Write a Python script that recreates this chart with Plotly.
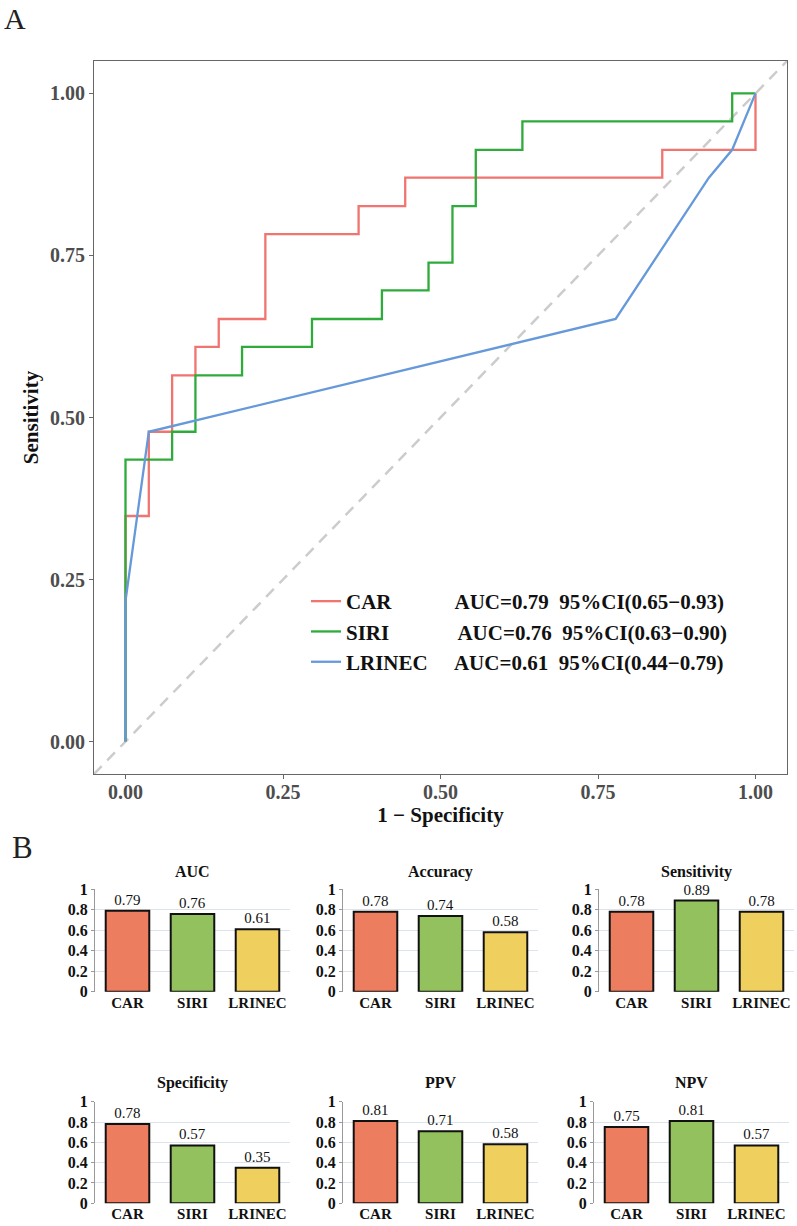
import plotly.graph_objects as go

# ---------------- Data ----------------
# ROC curves (1 - specificity, sensitivity) vertices
car_fpr = [0.0, 0.0, 0.037, 0.074, 0.111, 0.148, 0.222, 0.370, 0.444, 0.852, 1.0]
car_tpr = [0.0, 0.348, 0.478, 0.565, 0.609, 0.652, 0.783, 0.826, 0.870, 0.913, 1.0]

siri_fpr = [0.0, 0.0, 0.074, 0.111, 0.185, 0.296, 0.407, 0.481, 0.519, 0.556, 0.630, 0.963, 1.0]
siri_tpr = [0.0, 0.435, 0.478, 0.565, 0.609, 0.652, 0.696, 0.739, 0.826, 0.913, 0.957, 1.0, 1.0]

lrinec_fpr = [0.0, 0.0, 0.037, 0.778, 0.926, 0.963, 1.0]
lrinec_tpr = [0.0, 0.217, 0.478, 0.652, 0.870, 0.913, 1.0]

models = ["CAR", "SIRI", "LRINEC"]
auc_vals = [0.79, 0.76, 0.61]
ci_low = [0.65, 0.63, 0.44]
ci_high = [0.93, 0.90, 0.79]

roc_ticks = [0.0, 0.25, 0.5, 0.75, 1.0]
roc_ticktext = ["0.00", "0.25", "0.50", "0.75", "1.00"]

metric_names = ["AUC", "Accuracy", "Sensitivity", "Specificity", "PPV", "NPV"]
metric_auc = [0.79, 0.76, 0.61]
metric_accuracy = [0.78, 0.74, 0.58]
metric_sensitivity = [0.78, 0.89, 0.78]
metric_specificity = [0.78, 0.57, 0.35]
metric_ppv = [0.81, 0.71, 0.58]
metric_npv = [0.75, 0.81, 0.57]
metric_values = [metric_auc, metric_accuracy, metric_sensitivity,
                 metric_specificity, metric_ppv, metric_npv]

# ---------------- Style ----------------
W, H = 797, 1226
SERIF = "Liberation Serif"
line_colors = ["#F07470", "#2EAB3B", "#6699D9"]
bar_colors = ["#ED7D5F", "#93C15D", "#EFCF5D"]
pad_spaces = [12, 13, 5]

def px_x(p):
    return p / W

def px_y(p):
    return 1 - p / H

fig = go.Figure()

shapes_fr = [(car_fpr, car_tpr, "hv"), (siri_fpr, siri_tpr, "hv"), (lrinec_fpr, lrinec_tpr, "linear")]
for i, (fx, ty, shp) in enumerate(shapes_fr):
    label = (models[i] + "\u00a0" * pad_spaces[i] +
             f"AUC={auc_vals[i]:.2f}\u00a0\u00a095%CI({ci_low[i]:.2f}\u2212{ci_high[i]:.2f})")
    fig.add_trace(go.Scatter(
        x=fx, y=ty, mode="lines", name=label,
        line=dict(color=line_colors[i], width=2.3, shape=shp),
        xaxis="x", yaxis="y", showlegend=True,
    ))

roc_range = [-0.05, 1.05]
fig.add_shape(type="line", xref="x", yref="y",
              x0=roc_range[0], y0=roc_range[0], x1=roc_range[1], y1=roc_range[1],
              line=dict(color="#CCCCCC", width=2.5, dash="11px,8px"), layer="below")

# bar panels
col_domains_r1 = [(95, 290), (343, 538), (599, 794)]
col_domains_r2 = [(95, 290), (343, 538), (594, 789)]
row_y = [(889.3, 991.7), (1101.7, 1203.3)]
title_y = [871.7, 1082.7]

layout_axes = {}
annotations = []
for k, name in enumerate(metric_names):
    r, c = divmod(k, 3)
    dom = (col_domains_r1 if r == 0 else col_domains_r2)[c]
    top, bot = row_y[r]
    n = k + 2
    fig.add_trace(go.Bar(
        x=models, y=metric_values[k], xaxis=f"x{n}", yaxis=f"y{n}",
        marker=dict(color=bar_colors, line=dict(color="#111111", width=2)),
        width=0.67, text=[f"{v:.2f}" for v in metric_values[k]],
        textposition="outside", cliponaxis=False,
        textfont=dict(family=SERIF, size=15, color="#111111"),
        showlegend=False,
    ))
    layout_axes[f"xaxis{n}"] = dict(
        domain=[px_x(dom[0]), px_x(dom[1])], anchor=f"y{n}", type="category",
        range=[-0.5, 2.5], showgrid=False, showline=False, zeroline=False,
        ticks="", automargin=False,
        tickfont=dict(family=SERIF, size=15, color="#111111", weight="bold"),
    )
    layout_axes[f"yaxis{n}"] = dict(
        domain=[px_y(bot), px_y(top)], anchor=f"x{n}", range=[0, 1], dtick=0.2,
        showgrid=True, gridcolor="#DDE3EC", gridwidth=1, zeroline=False,
        showline=True, linecolor="#999999", linewidth=1.2,
        ticks="outside", ticklen=3, tickcolor="#999999", automargin=False,
        tickfont=dict(family=SERIF, size=16, color="#111111", weight="bold"),
    )
    annotations.append(dict(
        text=name, xref="paper", yref="paper",
        x=px_x((dom[0] + dom[1]) / 2), y=px_y(title_y[r]),
        xanchor="center", yanchor="middle", showarrow=False,
        font=dict(family=SERIF, size=16, color="#111111", weight="bold"),
    ))

annotations.append(dict(text="A", xref="paper", yref="paper", x=px_x(2), y=px_y(0),
                        xanchor="left", yanchor="top", showarrow=False,
                        font=dict(family=SERIF, size=30, color="#222222")))
annotations.append(dict(text="B", xref="paper", yref="paper", x=px_x(10), y=px_y(828),
                        xanchor="left", yanchor="top", showarrow=False,
                        font=dict(family=SERIF, size=31, color="#222222")))

fig.update_layout(
    width=W, height=H, autosize=False,
    margin=dict(l=0, r=0, t=0, b=0, autoexpand=False),
    paper_bgcolor="white", plot_bgcolor="white",
    xaxis=dict(
        domain=[px_x(94), px_x(787)], anchor="y", range=roc_range,
        tickvals=roc_ticks, ticktext=roc_ticktext, automargin=False,
        showgrid=False, zeroline=False, showline=True, mirror=True,
        linecolor="#666666", linewidth=1.2, ticks="outside", ticklen=4, tickcolor="#666666",
        ticklabelstandoff=-4,
        tickfont=dict(family=SERIF, size=20, color="#4D4D4D", weight="bold"),
        title=dict(text="1 \u2212 Specificity", standoff=4,
                   font=dict(family=SERIF, size=21, color="#111111", weight="bold")),
    ),
    yaxis=dict(
        domain=[px_y(774), px_y(61)], anchor="x", range=roc_range,
        tickvals=roc_ticks, ticktext=roc_ticktext, automargin=False,
        showgrid=False, zeroline=False, showline=True, mirror=True,
        linecolor="#666666", linewidth=1.2, ticks="outside", ticklen=4, tickcolor="#666666",
        tickfont=dict(family=SERIF, size=20, color="#4D4D4D", weight="bold"),
        title=dict(text="Sensitivity", standoff=5,
                   font=dict(family=SERIF, size=21, color="#111111", weight="bold")),
    ),
    legend=dict(
        x=px_x(306), y=px_y(581), xanchor="left", yanchor="top",
        bgcolor="rgba(0,0,0,0)", borderwidth=0,
        font=dict(family=SERIF, size=21, color="#111111", weight="bold"),
        itemwidth=30, tracegroupgap=0,
    ),
    annotations=annotations,
    bargap=0.33,
    **layout_axes,
)

fig.write_html("out.html")
